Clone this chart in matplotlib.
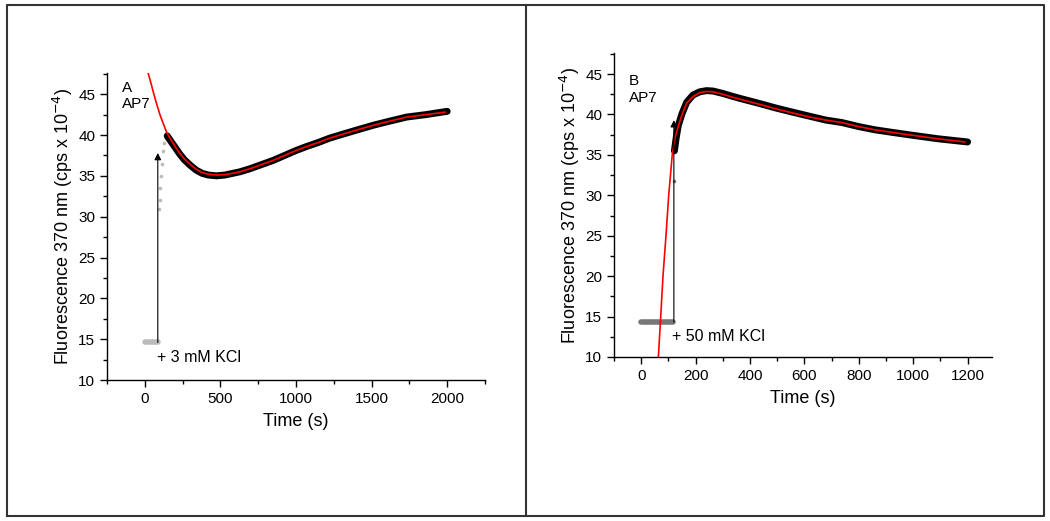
import matplotlib
matplotlib.use("Agg")
import matplotlib.pyplot as plt
from matplotlib.lines import Line2D
from matplotlib.ticker import MultipleLocator

plt.rcParams['font.family'] = ['Liberation Sans', 'DejaVu Sans']

# ---- panel A (3 mM KCl) ----
a_base_t = [0, 90]
a_base_y = [14.6, 14.6]
a_rise_t = [95, 100, 103, 108, 112, 120, 130, 140]
a_rise_y = [31.0, 32.0, 33.5, 35.0, 36.5, 38.0, 39.0, 39.6]
a_data_t = [148, 170, 200, 230, 260, 300, 340, 380, 420, 475, 530, 580, 630, 700,
            775, 850, 925, 1000, 1071, 1150, 1220, 1291, 1400, 1512, 1620, 1733,
            1860, 2000]
a_data_y = [39.9, 39.3, 38.5, 37.7, 37.0, 36.3, 35.7, 35.3, 35.1, 35.0, 35.1, 35.3,
            35.5, 35.9, 36.4, 36.9, 37.5, 38.1, 38.6, 39.1, 39.6, 40.0, 40.6, 41.2,
            41.7, 42.2, 42.5, 42.9]
a_fit_t = [22, 40, 60, 80, 100, 120, 143, 170, 200, 230, 260, 300, 340, 380, 420,
           475, 530, 580, 630, 700, 775, 850, 925, 1000, 1071, 1150, 1220, 1291,
           1400, 1512, 1620, 1733, 1860, 1987]
a_fit_y = [47.6, 46.4, 45.0, 43.7, 42.5, 41.5, 40.4, 39.5, 38.6, 37.8, 37.1, 36.4,
           35.8, 35.4, 35.2, 35.1, 35.15, 35.3, 35.5, 35.9, 36.4, 36.9, 37.5, 38.1,
           38.6, 39.1, 39.6, 40.0, 40.6, 41.2, 41.7, 42.2, 42.5, 42.8]
a_arrow = (86, 14.6, 37.8)

# ---- panel B (50 mM KCl) ----
b_base_t = [0, 118]
b_base_y = [14.3, 14.3]
b_rise_t = [120]
b_rise_y = [31.8]
b_data_t = [122, 128, 136, 150, 167, 190, 215, 240, 264, 300, 340, 373, 430, 495,
            555, 617, 680, 738, 800, 860, 920, 982, 1090, 1200]
b_data_y = [35.5, 37.0, 38.6, 40.1, 41.5, 42.4, 42.8, 42.95, 42.9, 42.6, 42.2, 41.9,
            41.4, 40.8, 40.3, 39.8, 39.3, 39.0, 38.5, 38.1, 37.8, 37.5, 37.0, 36.6]
b_fit_t = [63, 70, 80, 91, 101, 114, 125, 136, 150, 167, 190, 215, 240, 264, 300,
           340, 373, 430, 495, 555, 617, 680, 738, 800, 860, 920, 982, 1090, 1190]
b_fit_y = [10, 14, 20, 25, 30, 35, 37.2, 38.5, 40.0, 41.4, 42.2, 42.7, 42.85, 42.8,
           42.5, 42.1, 41.8, 41.3, 40.7, 40.2, 39.7, 39.3, 39.0, 38.5, 38.1, 37.8,
           37.5, 37.0, 36.6]
b_arrow = (120, 14.3, 39.3)

fig = plt.figure(figsize=(10.5, 5.21), dpi=100)

# outer frame and divider
frame = dict(color='#333333', lw=1.5, transform=fig.transFigure)
L, R, B, T = 0.0067, 0.9943, 0.0096, 0.9904
fig.add_artist(Line2D([L, R, R, L, L], [B, B, T, T, B], **frame))
fig.add_artist(Line2D([0.501, 0.501], [B, T], **frame))


def panel(rect, base_t, base_y, base_c, rise_t, rise_y, data_t, data_y,
          fit_t, fit_y, arrow, xlim, xmajor, letter, letter_y, note, note_xy):
    ax = fig.add_axes(rect)
    ax.plot(base_t, base_y, color=base_c, lw=4, solid_capstyle='round')
    ax.plot(rise_t, rise_y, 'o', color=base_c, ms=2.6, mew=0)
    ax.plot(data_t, data_y, color='black', lw=5, solid_capstyle='round',
            solid_joinstyle='round')
    ax.plot(fit_t, fit_y, color='red', lw=1.2)
    ax.annotate('', xy=(arrow[0], arrow[2]), xytext=(arrow[0], arrow[1]),
                arrowprops=dict(arrowstyle='-|>', lw=0.8, color='black',
                                mutation_scale=10, shrinkA=0, shrinkB=0))
    ax.text(note_xy[0], note_xy[1], note, fontsize=11.5, va='center', ha='left')
    ax.text(0.04, letter_y, letter + '\nAP7', transform=ax.transAxes,
            fontsize=11, va='top', ha='left', linespacing=1.2)
    ax.set_xlim(*xlim)
    ax.set_ylim(10, 47.6)
    ax.xaxis.set_major_locator(MultipleLocator(xmajor))
    ax.xaxis.set_minor_locator(MultipleLocator(xmajor / 2))
    ax.yaxis.set_major_locator(MultipleLocator(5))
    ax.yaxis.set_minor_locator(MultipleLocator(2.5))
    for s in ['top', 'right']:
        ax.spines[s].set_visible(False)
    for s in ['left', 'bottom']:
        ax.spines[s].set_linewidth(1.0)
    ax.tick_params(which='major', direction='out', length=5, width=1, labelsize=11)
    ax.tick_params(which='minor', direction='out', length=3, width=1)
    ax.set_xlabel('Time (s)', fontsize=13, labelpad=5)
    ax.set_ylabel('Fluorescence 370 nm (cps x 10$^{-4}$)', fontsize=13, labelpad=2)
    return ax


panel([0.1019, 0.2706, 0.3600, 0.5894], a_base_t, a_base_y, '#bbbbbb',
      a_rise_t, a_rise_y, a_data_t, a_data_y, a_fit_t, a_fit_y, a_arrow,
      (-250, 2250), 500, 'A', 0.975, '+ 3 mM KCl', (80, 12.8))

panel([0.5848, 0.3148, 0.3600, 0.5834], b_base_t, b_base_y, '#777777',
      b_rise_t, b_rise_y, b_data_t, b_data_y, b_fit_t, b_fit_y, b_arrow,
      (-100, 1290), 200, 'B', 0.93, '+ 50 mM KCl', (113, 12.5))

fig.savefig('out.png', dpi=100)
